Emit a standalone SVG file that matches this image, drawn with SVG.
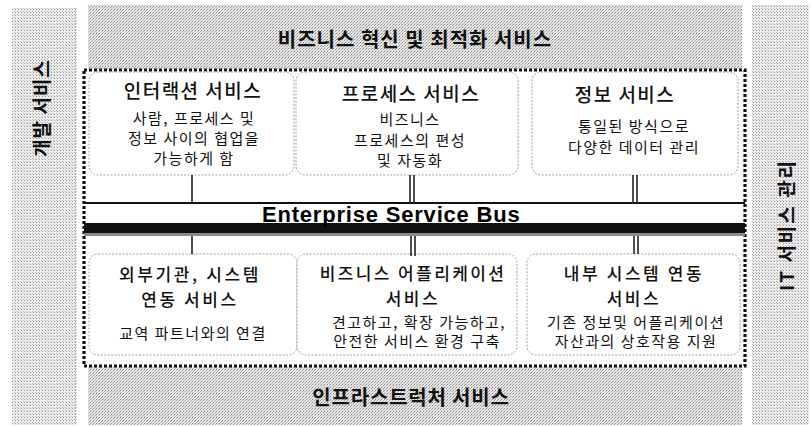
<svg xmlns="http://www.w3.org/2000/svg" width="811" height="427" viewBox="0 0 811 427">
<defs>
<pattern id="ht" width="3" height="3" patternUnits="userSpaceOnUse">
<rect width="3" height="3" fill="#e6e6e6"/>
<rect x="0" y="0" width="1" height="1" fill="#8a8a8a"/>
<rect x="2" y="1" width="1" height="1" fill="#a8a8a8"/>
<rect x="1" y="2" width="1" height="1" fill="#c4c4c4"/>
</pattern>
<pattern id="ht2" width="3" height="3" patternUnits="userSpaceOnUse">
<rect width="3" height="3" fill="#ececec"/>
<rect x="0" y="0" width="1" height="1" fill="#999"/>
<rect x="2" y="2" width="1" height="1" fill="#bbb"/>
</pattern>
</defs>
<style>
.band{fill:url(#ht)}
.side{fill:url(#ht2)}
.kr{font-family:"Noto Sans CJK KR","Noto Sans",sans-serif;fill:#111;text-anchor:middle}
.bt{font-size:20px;font-weight:700;letter-spacing:1px}
.st{font-size:19px;font-weight:700;letter-spacing:1px}
.tt{font-size:19px;font-weight:500;letter-spacing:1.5px}
.t2{font-size:17px;font-weight:500;letter-spacing:2.6px}
.ds{font-size:15px;font-weight:400;letter-spacing:1.5px}
.box{fill:#fff;stroke:#a0a0a0;stroke-width:1;stroke-dasharray:2 1.5}
.dot{fill:none;stroke:#111;stroke-width:3.2;stroke-dasharray:3 2}
.con{stroke:#222;stroke-width:1.6;fill:none}
</style>
<rect width="811" height="427" fill="#fff"/>

<g id="dev-services">
<rect class="side" x="12" y="8" width="64" height="417"/>
<line x1="76" y1="8" x2="76" y2="425" stroke="#9a9a9a" stroke-width="1" stroke-dasharray="1 2"/>
<text class="kr st" transform="translate(42,108) rotate(-90)" y="7">개발 서비스</text>
</g>

<g id="it-service-mgmt">
<rect class="side" x="752" y="5" width="57" height="420"/>
<text class="kr st" transform="translate(787,225) rotate(-90)" y="7" style="letter-spacing:2px">IT 서비스 관리</text>
</g>

<g id="biz-innovation">
<rect class="band" x="88" y="5" width="654" height="64"/>
<text class="kr bt" x="415" y="47">비즈니스 혁신 및 최적화 서비스</text>
</g>

<g id="infra-services">
<rect class="band" x="88" y="367" width="654" height="58"/>
<text class="kr bt" x="411" y="405" style="letter-spacing:0.8px">인프라스트럭처 서비스</text>
</g>

<g id="main-frame">
<rect x="84" y="70" width="661" height="296" fill="#fff"/>
<rect class="dot" x="84" y="70" width="661" height="296"/>
</g>

<g id="interaction">
<rect class="box" x="89" y="72" width="205" height="103" rx="9"/>
<text class="kr tt" x="193" y="98">인터랙션 서비스</text>
<text class="kr ds" x="194" y="124">사람, 프로세스 및</text>
<text class="kr ds" x="194" y="144">정보 사이의 협업을</text>
<text class="kr ds" x="194" y="164">가능하게 함</text>
</g>

<g id="process">
<rect class="box" x="296" y="72" width="222" height="103" rx="9"/>
<text class="kr tt" x="411" y="101">프로세스 서비스</text>
<text class="kr ds" x="410" y="125">비즈니스</text>
<text class="kr ds" x="410" y="146">프로세스의 편성</text>
<text class="kr ds" x="410" y="166">및 자동화</text>
</g>

<g id="information">
<rect class="box" x="532" y="72" width="206" height="103" rx="9"/>
<text class="kr tt" x="625" y="102">정보 서비스</text>
<text class="kr ds" x="634" y="132">통일된 방식으로</text>
<text class="kr ds" x="634" y="153">다양한 데이터 관리</text>
</g>

<g id="esb">
<line x1="84" y1="203" x2="745" y2="203" stroke="#111" stroke-width="1.8"/>
<rect x="84" y="223" width="661" height="10" fill="#111"/>
<rect x="84" y="233" width="661" height="3" fill="#8a8a8a"/>
<text x="262" y="222" font-family="'Liberation Sans',Arial,sans-serif" font-size="22" font-weight="700" letter-spacing="0.8" fill="#000">Enterprise Service Bus</text>
</g>

<g id="external">
<rect class="box" x="89" y="254" width="208" height="101" rx="9"/>
<text class="kr t2" x="190" y="281">외부기관, 시스템</text>
<text class="kr t2" x="190" y="306">연동 서비스</text>
<text class="kr ds" x="193" y="339">교역 파트너와의 연결</text>
</g>

<g id="biz-app">
<rect class="box" x="297" y="254" width="220" height="101" rx="9"/>
<text class="kr t2" x="413" y="280" style="letter-spacing:2.4px">비즈니스 어플리케이션</text>
<text class="kr t2" x="413" y="305">서비스</text>
<text class="kr ds" x="419" y="328">견고하고, 확장 가능하고,</text>
<text class="kr ds" x="417" y="347">안전한 서비스 환경 구축</text>
</g>

<g id="internal">
<rect class="box" x="527" y="254" width="213" height="101" rx="9"/>
<text class="kr t2" x="634" y="280">내부 시스템 연동</text>
<text class="kr t2" x="634" y="305">서비스</text>
<text class="kr ds" x="636" y="328">기존 정보및 어플리케이션</text>
<text class="kr ds" x="636" y="347">자산과의 상호작용  지원</text>
</g>

<g id="connectors">
<line class="con" x1="192" y1="175" x2="192" y2="203" stroke-width="2.2"/>
<line class="con" x1="410" y1="175" x2="410" y2="203"/>
<line class="con" x1="414" y1="175" x2="414" y2="203"/>
<line class="con" x1="633" y1="175" x2="633" y2="203"/>
<line class="con" x1="637" y1="175" x2="637" y2="203"/>
<line class="con" x1="192" y1="236" x2="192" y2="254" stroke-width="2.2"/>
<line class="con" x1="411" y1="236" x2="411" y2="256"/>
<line class="con" x1="415" y1="236" x2="415" y2="256"/>
<line class="con" x1="634" y1="236" x2="634" y2="254"/>
<line class="con" x1="638" y1="236" x2="638" y2="254"/>
</g>
</svg>
